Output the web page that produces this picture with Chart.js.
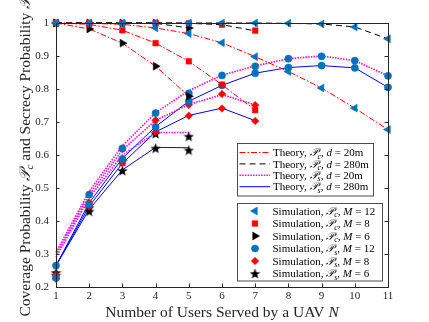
<!DOCTYPE html>
<html lang="en">
<head>
<meta charset="UTF-8">
<title>Coverage and secrecy probability vs users served by a UAV</title>
<script src="https://cdn.jsdelivr.net/npm/chart.js"></script>
<style>
  html, body { margin: 0; padding: 0; background: #fff; }
  .wrap { position: relative; width: 429px; height: 322px; }
</style>
</head>
<body>
<div class="wrap"><canvas id="chart" width="429" height="322"></canvas></div>
<script>
// number of users served by a UAV (N), one list per antenna count M
const usersM12 = [1, 2, 3, 4, 5, 6, 7, 8, 9, 10, 11];
const usersM8 = [1, 2, 3, 4, 5, 6, 7];
const usersM6 = [1, 2, 3, 4, 5];

const xTicks = [1, 2, 3, 4, 5, 6, 7, 8, 9, 10, 11];
const yTicks = [0.2, 0.3, 0.4, 0.5, 0.6, 0.7, 0.8, 0.9, 1];

// theory, coverage probability Pc
const pcTheory20M12 = [1, 0.999, 0.996, 0.985, 0.968, 0.940, 0.898, 0.853, 0.803, 0.742, 0.677];
const pcTheory20M8 = [1, 0.996, 0.978, 0.939, 0.884, 0.813, 0.736];
const pcTheory20M6 = [1, 0.982, 0.939, 0.869, 0.778];
const pcTheory280M12 = [1, 1, 1, 1, 1, 1, 1, 0.999, 0.997, 0.988, 0.952];
const pcTheory280M8 = [1, 1, 1, 1, 0.999, 0.995, 0.976];
const pcTheory280M6 = [1, 1, 1, 0.999, 0.985];

// theory, secrecy probability Ps
const psTheory20M12 = [0.305, 0.490, 0.628, 0.728, 0.795, 0.842, 0.870, 0.892, 0.900, 0.886, 0.840];
const psTheory20M8 = [0.298, 0.480, 0.615, 0.705, 0.753, 0.783, 0.752];
const psTheory20M6 = [0.290, 0.470, 0.600, 0.668, 0.668];
const psTheory280M12 = [0.265, 0.455, 0.590, 0.686, 0.763, 0.811, 0.848, 0.865, 0.871, 0.864, 0.805];
const psTheory280M8 = [0.265, 0.445, 0.575, 0.670, 0.720, 0.742, 0.704];
const psTheory280M6 = [0.265, 0.435, 0.555, 0.623, 0.622];

// simulation points
const pcSim20M12 = [1, 0.999, 0.996, 0.985, 0.968, 0.940, 0.898, 0.853, 0.803, 0.742, 0.677];
const pcSim280M12 = [1, 1, 1, 1, 1, 1, 1, 0.999, 0.997, 0.988, 0.952];
const pcSim20M8 = [1, 0.996, 0.978, 0.939, 0.884, 0.813, 0.736];
const pcSim280M8 = [1, 1, 1, 1, 0.999, 0.995, 0.977];
const pcSim20M6 = [1, 0.982, 0.939, 0.869, 0.778];
const pcSim280M6 = [1, 1, 1, 1, 0.985];
const psSim20M12 = [0.265, 0.480, 0.620, 0.727, 0.787, 0.841, 0.869, 0.892, 0.899, 0.886, 0.840];
const psSim280M12 = [0.228, 0.450, 0.588, 0.685, 0.763, 0.811, 0.848, 0.865, 0.871, 0.864, 0.805];
const psSim20M8 = [0.237, 0.456, 0.618, 0.705, 0.752, 0.785, 0.751];
const psSim280M8 = [0.225, 0.445, 0.575, 0.670, 0.719, 0.741, 0.703];
const psSim20M6 = [0.244, 0.440, 0.581, 0.665, 0.657];
const psSim280M6 = [0.236, 0.430, 0.553, 0.621, 0.615];

const SERIF = '"Liberation Serif", "DejaVu Serif", serif';
const AXIS_COLOR = '#262626';
const MATLAB_BLUE = '#0072bd';

// filled five-point star, used as a marker image
function makeStar(size, color) {
    const c = document.createElement('canvas');
    c.width = size; c.height = size;
    const g = c.getContext('2d');
    const cx = size / 2, cy = size / 2 + 0.6, ro = size / 2, ri = ro * 0.42;
    g.beginPath();
    for (let k = 0; k < 10; k++) {
        const r = k % 2 ? ri : ro;
        const a = -Math.PI / 2 + k * Math.PI / 5;
        g.lineTo(cx + r * Math.cos(a), cy + r * Math.sin(a));
    }
    g.closePath();
    g.fillStyle = color;
    g.fill();
    return c;
}
const starImg = makeStar(11, '#000');

// line styles
const lineStyles = {
    pc20: { color: '#ff0000', dash: [6, 2, 1.5, 2], width: 1 },
    pc280: { color: '#000000', dash: [6, 4], width: 1 },
    ps20: { color: '#ff00ff', dash: [1.5, 1.2], width: 1.6 },
    ps280: { color: '#0000ff', dash: [], width: 1 }
};
// marker styles
const markers = {
    pc12: { style: 'triangle', rot: -90, r: 4.6, color: MATLAB_BLUE },
    pc8: { style: 'rect', rot: 0, r: 4, color: '#ff0000' },
    pc6: { style: 'triangle', rot: 90, r: 4.6, color: '#000000' },
    ps12: { style: 'circle', rot: 0, r: 3.6, color: MATLAB_BLUE },
    ps8: { style: 'rectRot', rot: 0, r: 3.8, color: '#ff0000' },
    ps6: { style: starImg, rot: 0, r: 5, color: '#000000' }
};

function pts(xs, ys) {
    return xs.map((x, i) => ({ x: x, y: ys[i] }));
}
function lineSet(xs, ys, s) {
    return {
        data: pts(xs, ys), borderColor: s.color, borderDash: s.dash, borderWidth: s.width,
        pointRadius: 0, tension: 0, fill: false, clip: false, order: 2
    };
}
function markSet(xs, ys, m) {
    return {
        data: pts(xs, ys), showLine: false, pointStyle: m.style, pointRotation: m.rot,
        pointRadius: m.r, pointBackgroundColor: m.color, pointBorderColor: m.color,
        pointBorderWidth: 0.5, clip: false, order: 1
    };
}

const datasets = [
    lineSet(usersM12, pcTheory20M12, lineStyles.pc20),
    lineSet(usersM8, pcTheory20M8, lineStyles.pc20),
    lineSet(usersM6, pcTheory20M6, lineStyles.pc20),
    lineSet(usersM12, pcTheory280M12, lineStyles.pc280),
    lineSet(usersM8, pcTheory280M8, lineStyles.pc280),
    lineSet(usersM6, pcTheory280M6, lineStyles.pc280),
    lineSet(usersM12, psTheory20M12, lineStyles.ps20),
    lineSet(usersM8, psTheory20M8, lineStyles.ps20),
    lineSet(usersM6, psTheory20M6, lineStyles.ps20),
    lineSet(usersM12, psTheory280M12, lineStyles.ps280),
    lineSet(usersM8, psTheory280M8, lineStyles.ps280),
    lineSet(usersM6, psTheory280M6, lineStyles.ps280),
    markSet(usersM12, pcSim20M12, markers.pc12),
    markSet(usersM12, pcSim280M12, markers.pc12),
    markSet(usersM8, pcSim20M8, markers.pc8),
    markSet(usersM8, pcSim280M8, markers.pc8),
    markSet(usersM6, pcSim20M6, markers.pc6),
    markSet(usersM6, pcSim280M6, markers.pc6),
    markSet(usersM12, psSim20M12, markers.ps12),
    markSet(usersM12, psSim280M12, markers.ps12),
    markSet(usersM8, psSim20M8, markers.ps8),
    markSet(usersM8, psSim280M8, markers.ps8),
    markSet(usersM6, psSim20M6, markers.ps6),
    markSet(usersM6, psSim280M6, markers.ps6)
];

// small rich-text helper: plain, italic and subscript pieces
const T = t => ({ t: t });
const I = t => ({ t: t, it: true });
const S = t => ({ t: t, it: true, sub: true });
const P = '\u{1D4AB}';

function richWidth(ctx, parts, size) {
    let w = 0;
    parts.forEach(p => {
        ctx.font = (p.it ? 'italic ' : '') + (p.sub ? size * 0.72 : size) + 'px ' + SERIF;
        w += ctx.measureText(p.t).width;
    });
    return w;
}
function drawRich(ctx, parts, x, y, size) {
    parts.forEach(p => {
        ctx.font = (p.it ? 'italic ' : '') + (p.sub ? size * 0.72 : size) + 'px ' + SERIF;
        ctx.fillText(p.t, x, y + (p.sub ? size * 0.22 : 0));
        x += ctx.measureText(p.t).width;
    });
}

const theoryLegend = [
    { s: lineStyles.pc20, label: [T('Theory, '), I(P), S('c'), T(', '), I('d'), T(' = 20m')] },
    { s: lineStyles.pc280, label: [T('Theory, '), I(P), S('c'), T(', '), I('d'), T(' = 280m')] },
    { s: lineStyles.ps20, label: [T('Theory, '), I(P), S('s'), T(', '), I('d'), T(' = 20m')] },
    { s: lineStyles.ps280, label: [T('Theory, '), I(P), S('s'), T(', '), I('d'), T(' = 280m')] }
];
const simLegend = [
    { m: markers.pc12, label: [T('Simulation, '), I(P), S('c'), T(', '), I('M'), T(' = 12')] },
    { m: markers.pc8, label: [T('Simulation, '), I(P), S('c'), T(', '), I('M'), T(' = 8')] },
    { m: markers.pc6, label: [T('Simulation, '), I(P), S('c'), T(', '), I('M'), T(' = 6')] },
    { m: markers.ps12, label: [T('Simulation, '), I(P), S('s'), T(', '), I('M'), T(' = 12')] },
    { m: markers.ps8, label: [T('Simulation, '), I(P), S('s'), T(', '), I('M'), T(' = 8')] },
    { m: markers.ps6, label: [T('Simulation, '), I(P), S('s'), T(', '), I('M'), T(' = 6')] }
];

// axes box with inward ticks, axis titles and the two legend boxes
const decor = {
    id: 'decor',
    afterDraw(chart) {
        const ctx = chart.ctx;
        const a = chart.chartArea;
        const xs = chart.scales.x, ys = chart.scales.y;
        ctx.save();
        ctx.strokeStyle = AXIS_COLOR;
        ctx.lineWidth = 1;
        ctx.setLineDash([]);
        ctx.strokeRect(Math.round(a.left) + 0.5, Math.round(a.top) + 0.5,
            Math.round(a.right - a.left), Math.round(a.bottom - a.top));
        ctx.beginPath();
        xs.ticks.forEach(t => {
            const px = Math.round(xs.getPixelForValue(t.value)) + 0.5;
            ctx.moveTo(px, a.bottom); ctx.lineTo(px, a.bottom - 3.5);
            ctx.moveTo(px, a.top); ctx.lineTo(px, a.top + 3.5);
        });
        ys.ticks.forEach(t => {
            const py = Math.round(ys.getPixelForValue(t.value)) + 0.5;
            ctx.moveTo(a.left, py); ctx.lineTo(a.left + 3.5, py);
            ctx.moveTo(a.right, py); ctx.lineTo(a.right - 3.5, py);
        });
        ctx.stroke();

        // axis titles
        ctx.fillStyle = AXIS_COLOR;
        ctx.textBaseline = 'alphabetic';
        ctx.textAlign = 'left';
        const xt = [T('Number of Users Served by a UAV '), I('N')];
        const xw = richWidth(ctx, xt, 15.5);
        drawRich(ctx, xt, (a.left + a.right) / 2 - xw / 2, 317, 15.5);

        const yt = [T('Coverage Probability '), I(P), S('c'), T(' and Secrecy Probability '), I(P), S('s')];
        const yw = richWidth(ctx, yt, 15.5);
        ctx.save();
        ctx.translate(29.5, (a.top + a.bottom) / 2);
        ctx.rotate(-Math.PI / 2);
        drawRich(ctx, yt, -yw / 2, 0, 15.5);
        ctx.restore();

        // legend 1: theory lines
        ctx.fillStyle = '#fff';
        ctx.strokeStyle = '#4d4d4d';
        ctx.lineWidth = 1;
        ctx.fillRect(237, 143.5, 136, 52.5);
        ctx.strokeRect(237.5, 143.5, 136, 52.5);
        theoryLegend.forEach((e, i) => {
            const y = 152.5 + i * 11.4;
            ctx.save();
            ctx.strokeStyle = e.s.color;
            ctx.lineWidth = e.s.width;
            ctx.setLineDash(e.s.dash);
            ctx.beginPath();
            ctx.moveTo(239.5, y); ctx.lineTo(270, y);
            ctx.stroke();
            ctx.restore();
            ctx.fillStyle = '#000';
            drawRich(ctx, e.label, 273, y + 3.7, 11);
        });

        // legend 2: simulation markers
        ctx.fillStyle = '#fff';
        ctx.strokeStyle = '#4d4d4d';
        ctx.fillRect(237, 203, 145, 78);
        ctx.strokeRect(237.5, 203.5, 145, 77.5);
        simLegend.forEach((e, i) => {
            const y = 211 + i * 12.5;
            ctx.fillStyle = e.m.color;
            ctx.strokeStyle = e.m.color;
            ctx.lineWidth = 0.5;
            Chart.helpers.drawPoint(ctx, { pointStyle: e.m.style, rotation: e.m.rot, radius: e.m.r, borderWidth: 0.5 }, 255, y);
            ctx.fillStyle = '#000';
            drawRich(ctx, e.label, 272.5, y + 3.7, 11);
        });
        ctx.restore();
    }
};

new Chart(document.getElementById('chart'), {
    type: 'line',
    data: { datasets: datasets },
    options: {
        responsive: false,
        animation: false,
        events: [],
        layout: { padding: { top: 23, right: 41, left: 0, bottom: 0 } },
        plugins: { legend: { display: false }, tooltip: { enabled: false } },
        scales: {
            x: {
                type: 'linear', min: 1, max: 11,
                grid: { display: false, drawTicks: false }, border: { display: false },
                afterBuildTicks: s => { s.ticks = xTicks.map(v => ({ value: v })); },
                afterFit: s => { s.height = 35; },
                ticks: { padding: 3, color: AXIS_COLOR, font: { family: SERIF, size: 11 }, maxRotation: 0 }
            },
            y: {
                type: 'linear', min: 0.2, max: 1,
                grid: { display: false, drawTicks: false }, border: { display: false },
                afterBuildTicks: s => { s.ticks = yTicks.map(v => ({ value: v })); },
                afterFit: s => { s.width = 56; },
                ticks: { padding: 7, color: AXIS_COLOR, font: { family: SERIF, size: 11 },
                    callback: v => String(Math.round(v * 10) / 10) }
            }
        }
    },
    plugins: [decor]
});
</script>
</body>
</html>
